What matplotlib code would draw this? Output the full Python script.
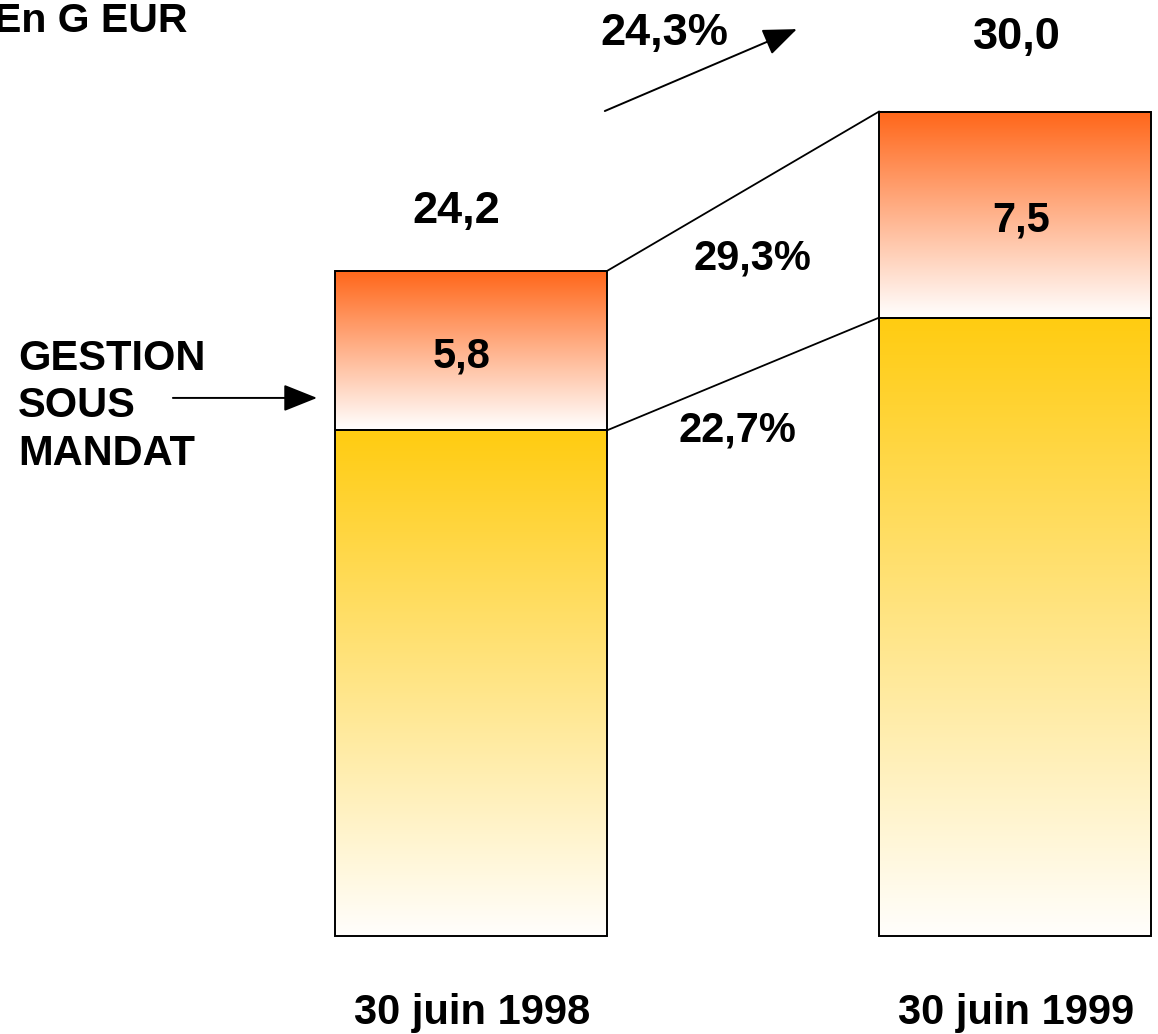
import numpy as np
import matplotlib
matplotlib.use("Agg")
import matplotlib.pyplot as plt
from matplotlib.colors import to_rgb

plt.rcParams['font.family'] = ['Liberation Sans', 'DejaVu Sans']

# ---- data ----
dates = ['30 juin 1998', '30 juin 1999']
autres = [18.4, 22.5]            # bottom segment (G EUR)
gestion_mandat = [5.8, 7.5]      # top segment: gestion sous mandat
totals = [24.2, 30.0]
total_labels = ['24,2', '30,0']
mandat_labels = ['5,8', '7,5']
growth_total = '24,3%'
growth_mandat = '29,3%'
growth_autres = '22,7%'
unit_label = 'En G EUR'
side_label = ['GESTION', 'SOUS', 'MANDAT']

# ---- figure ----
W, H = 1158, 1034
fig = plt.figure(figsize=(W / 100, H / 100), dpi=100)
ax = fig.add_axes([0, 0, 1, 1])
ax.set_xlim(-0.8658, 1.2629)
ax.set_ylim(-3.566, 34.06)
ax.axis('off')

x = np.arange(len(dates))
bw = 0.5

def grad(x0, x1, y0, y1, top_color, bottom_color):
    n = 256
    t = np.linspace(0, 1, n)[:, None]  # 0 bottom -> 1 top
    c0 = np.array(to_rgb(bottom_color))
    c1 = np.array(to_rgb(top_color))
    img = (c0 * (1 - t) + c1 * t)[:, None, :]
    ax.imshow(img, extent=(x0, x1, y0, y1), origin='lower', aspect='auto',
              interpolation='bilinear', zorder=1)

for i in range(len(dates)):
    x0, x1 = x[i] - bw / 2, x[i] + bw / 2
    grad(x0, x1, 0, autres[i], '#FFCC11', '#FFFEFC')
    grad(x0, x1, autres[i], totals[i], '#FF6619', '#FFFFFF')
    ax.add_patch(plt.Rectangle((x0, 0), bw, autres[i], fill=False,
                               ec='black', lw=1.4, zorder=3))
    ax.add_patch(plt.Rectangle((x0, autres[i]), bw, gestion_mandat[i],
                               fill=False, ec='black', lw=1.4, zorder=3))

ax.set_xlim(-0.8658, 1.2629)
ax.set_ylim(-3.566, 34.06)

# connecting lines
ax.plot([x[0] + bw / 2, x[1] - bw / 2], [totals[0], totals[1]], color='black', lw=1.3, zorder=3)
ax.plot([x[0] + bw / 2, x[1] - bw / 2], [autres[0], autres[1]], color='black', lw=1.3, zorder=3)

big = 32.5
mid = 30
tk = dict(fontweight='bold', color='black', ha='center', va='center', zorder=5)

# totals
ax.text(x[0] - 0.028, totals[0] + 2.15, total_labels[0], fontsize=big, **tk)
ax.text(x[1] + 0.003, totals[1] + 2.70, total_labels[1], fontsize=big, **tk)
# segment labels
ax.text(x[0] - 0.018, autres[0] + gestion_mandat[0] / 2 - 0.22, mandat_labels[0], fontsize=mid, **tk)
ax.text(x[1] + 0.012, autres[1] + gestion_mandat[1] / 2 - 0.23, mandat_labels[1], fontsize=mid, **tk)
# growth labels
ax.text(0.518, 24.65, growth_mandat, fontsize=mid, **tk)
ax.text(0.489, 18.40, growth_autres, fontsize=mid, **tk)
ax.text(0.355, 32.85, growth_total, fontsize=big, **tk)
ax.annotate('', xy=(0.599, 33.0), xytext=(0.246, 30.02),
            arrowprops=dict(arrowstyle='-|>,head_length=0.75,head_width=0.3',
                            mutation_scale=28, color='black', lw=1.4,
                            shrinkA=0, shrinkB=0), zorder=5)

# dates
for i in range(len(dates)):
    ax.text(x[i] + 0.002, -2.8, dates[i], fontsize=mid, **tk)

# unit label
ax.text(-0.877, 33.30, unit_label, fontsize=29.5, fontweight='bold',
        ha='left', va='center')

# side label
for j, (lab, yy) in enumerate(zip(side_label, [21.0, 19.28, 17.55])):
    ax.text(-0.833, yy, lab, fontsize=mid, fontweight='bold', ha='left', va='center')
ax.annotate('', xy=(-0.283, 19.58), xytext=(-0.548, 19.58),
            arrowprops=dict(arrowstyle='-|>,head_length=0.75,head_width=0.3',
                            mutation_scale=28, color='black', lw=1.4,
                            shrinkA=0, shrinkB=0))

fig.savefig('out.png', dpi=100, facecolor='white')
